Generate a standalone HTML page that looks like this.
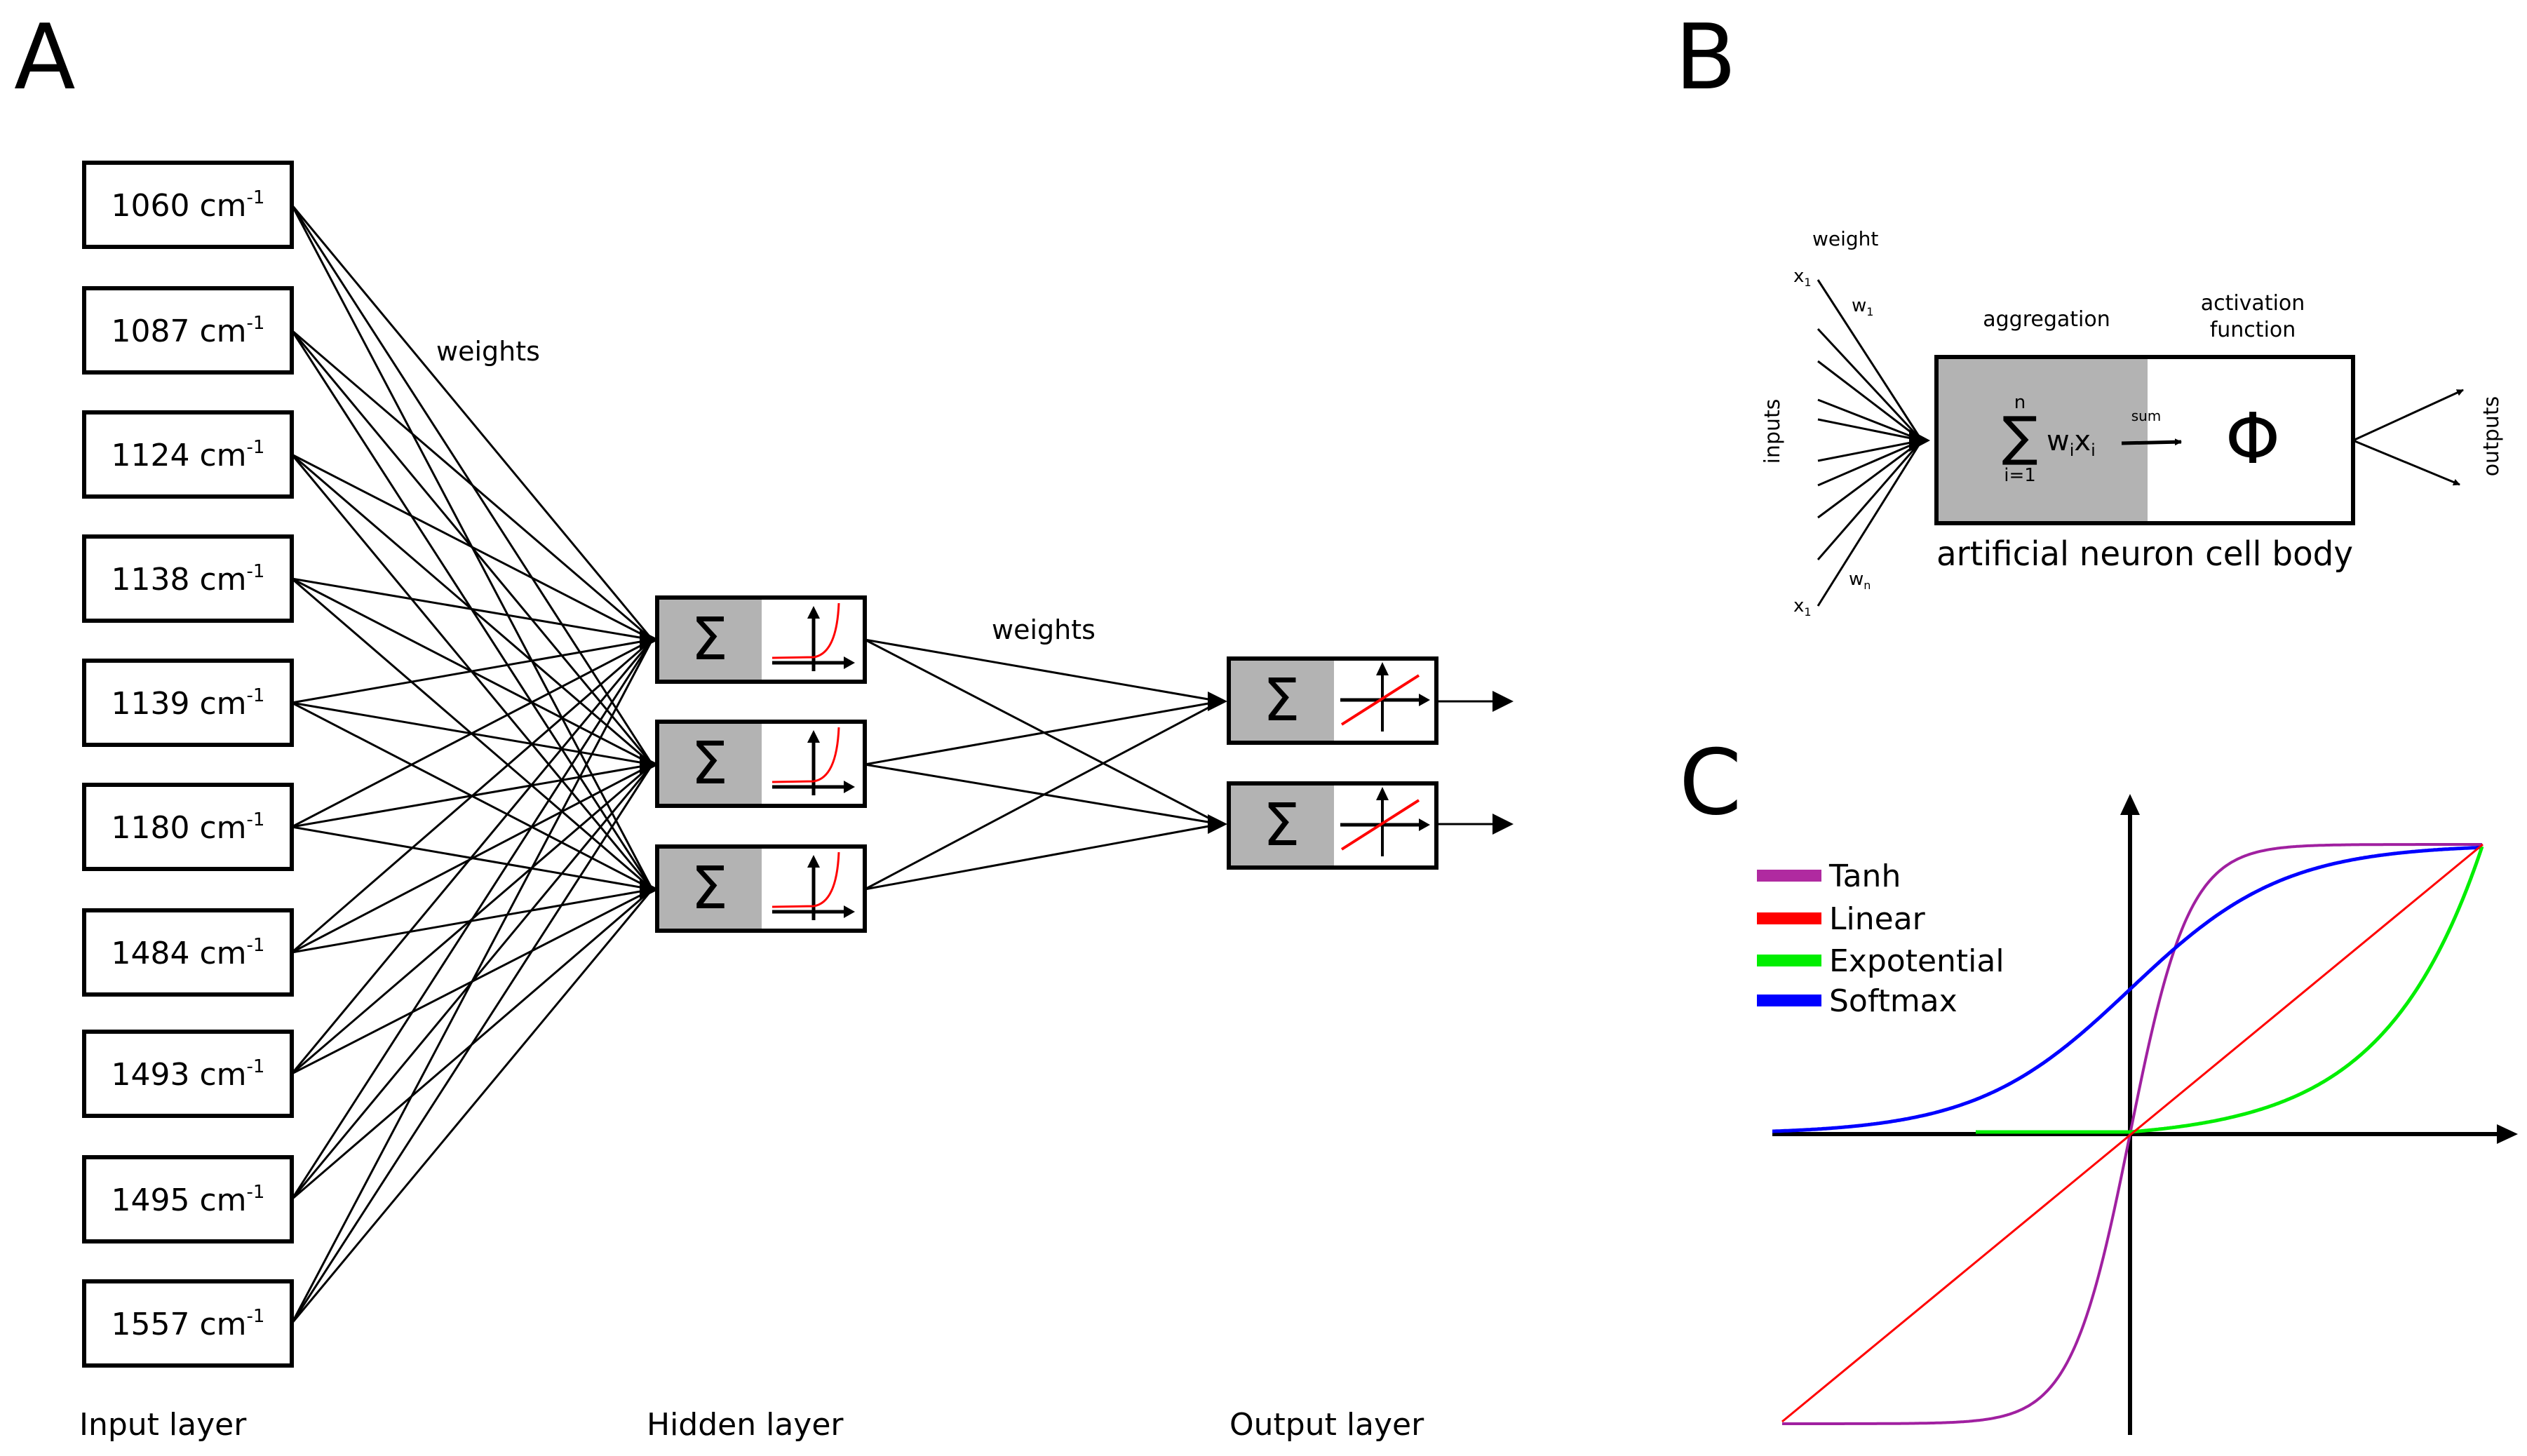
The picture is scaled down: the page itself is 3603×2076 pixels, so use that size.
<!DOCTYPE html>
<html><head><meta charset="utf-8">
<style>
html,body{margin:0;padding:0;background:#fff;}
svg{display:block;}
text{font-family:"DejaVu Sans","Liberation Sans",sans-serif;fill:#000;}
</style></head>
<body>
<svg id="s" xmlns="http://www.w3.org/2000/svg" width="3603" height="2076" viewBox="0 0 3603 2076">
<defs>
<marker id="ah" markerWidth="10" markerHeight="10" refX="9" refY="5" orient="auto" markerUnits="userSpaceOnUse" viewBox="0 0 10 10"><path d="M0,0 L10,5 L0,10 z" fill="#000"/></marker>
</defs>
<rect width="3603" height="2076" fill="#fff"/>
<text x="20" y="126" font-size="128">A</text>
<text x="2388" y="126" font-size="128">B</text>
<text x="2394" y="1160" font-size="128">C</text>
<g id="net" stroke="#000" stroke-width="3"></g>
<g id="boxes"></g>
<text x="696" y="514" font-size="38" text-anchor="middle">weights</text>
<text x="1488" y="911" font-size="38" text-anchor="middle">weights</text>
<text x="113" y="2046" font-size="44">Input layer</text>
<text x="922" y="2046" font-size="44">Hidden layer</text>
<text x="1753" y="2046" font-size="44">Output layer</text>

<!-- B -->
<g id="bl" stroke="#000" stroke-width="3"></g>
<rect x="2761" y="509" width="301" height="237" fill="#b3b3b3"/>
<rect x="2761" y="509" width="594" height="237" fill="none" stroke="#000" stroke-width="6"/>
<text x="2584" y="350" font-size="28">weight</text>
<text x="2557" y="402" font-size="26">x<tspan font-size="16" dy="6">1</tspan></text>
<text x="2640" y="444" font-size="26">w<tspan font-size="16" dy="6">1</tspan></text>
<text x="2636" y="834" font-size="26">w<tspan font-size="16" dy="6">n</tspan></text>
<text x="2557" y="872" font-size="26">x<tspan font-size="16" dy="6">1</tspan></text>
<text transform="translate(2537,615) rotate(-90)" font-size="30" text-anchor="middle">inputs</text>
<text transform="translate(3562,622) rotate(-90)" font-size="30" text-anchor="middle">outputs</text>
<text x="2918" y="465" font-size="30" text-anchor="middle">aggregation</text>
<text x="3212" y="442" font-size="30" text-anchor="middle">activation</text>
<text x="3212" y="480" font-size="30" text-anchor="middle">function</text>
<text x="2880" y="648" font-size="76" text-anchor="middle">∑</text>
<text x="2880" y="582" font-size="26" text-anchor="middle">n</text>
<text x="2880" y="686" font-size="26" text-anchor="middle">i=1</text>
<text x="2918" y="642" font-size="40">w<tspan font-size="24" dy="8">i</tspan><tspan dy="-8">x</tspan><tspan font-size="24" dy="8">i</tspan></text>
<text x="3060" y="600" font-size="20" text-anchor="middle">sum</text>
<line x1="3025" y1="632" x2="3110" y2="630" stroke="#000" stroke-width="5" marker-end="url(#ah)"/>
<text x="3212" y="660" font-size="100" text-anchor="middle">Φ</text>
<text x="3058" y="806" font-size="48" text-anchor="middle" textLength="594" lengthAdjust="spacingAndGlyphs">artificial neuron cell body</text>
<line x1="3355" y1="628" x2="3512" y2="556" stroke="#000" stroke-width="3" marker-end="url(#ah)"/>
<line x1="3355" y1="628" x2="3507" y2="691" stroke="#000" stroke-width="3" marker-end="url(#ah)"/>

<!-- C -->
<line x1="2527" y1="1617" x2="3560" y2="1617" stroke="#000" stroke-width="6"/>
<path d="M3560,1603 L3590,1617 L3560,1631 z"/>
<line x1="3037" y1="2046" x2="3037" y2="1160" stroke="#000" stroke-width="6"/>
<path d="M3023,1162 L3037,1132 L3051,1162 z"/>
<g id="curves" fill="none"></g>
<rect x="2505" y="1240" width="92" height="17" fill="#b02aa0"/>
<rect x="2505" y="1301" width="92" height="17" fill="#ff0000"/>
<rect x="2505" y="1361" width="92" height="17" fill="#00ee00"/>
<rect x="2505" y="1418" width="92" height="17" fill="#0000ff"/>
<text x="2608" y="1264" font-size="44">Tanh</text>
<text x="2608" y="1325" font-size="44">Linear</text>
<text x="2608" y="1385" font-size="44">Expotential</text>
<text x="2608" y="1442" font-size="44">Softmax</text>
</svg>
<script>
var NS="http://www.w3.org/2000/svg";
function el(p,t,a){var e=document.createElementNS(NS,t);for(var k in a)e.setAttribute(k,a[k]);p.appendChild(e);return e;}
var net=document.getElementById('net'),bx=document.getElementById('boxes');
var labels=["1060","1087","1124","1138","1139","1180","1484","1493","1495","1557"];
var tops=[232,411,588,765,942,1119,1298,1471,1650,1827];
var hc=[912,1090,1268], oc=[1000,1175];
tops.forEach(function(t,i){
  hc.forEach(function(h){el(net,'line',{x1:416,y1:t+60,x2:930,y2:h});});
});
hc.forEach(function(h){oc.forEach(function(o){el(net,'line',{x1:1233,y1:h,x2:1740,y2:o});});});
hc.forEach(function(h){el(bx,'path',{d:'M912,'+(h-14)+' L940,'+h+' L912,'+(h+14)+' z'});});
oc.forEach(function(o){el(bx,'path',{d:'M1722,'+(o-14)+' L1750,'+o+' L1722,'+(o+14)+' z'});
  el(bx,'line',{x1:2048,y1:o,x2:2130,y2:o,stroke:'#000','stroke-width':3});
  el(bx,'path',{d:'M2128,'+(o-15)+' L2158,'+o+' L2128,'+(o+15)+' z'});});
tops.forEach(function(t,i){
  el(bx,'rect',{x:120,y:t,width:296,height:120,fill:'#fff',stroke:'#000','stroke-width':6});
  var tx=el(bx,'text',{x:268,y:t+76,'font-size':44,'text-anchor':'middle'});
  tx.textContent=labels[i]+" cm";
  var sp=el(tx,'tspan',{'font-size':26,dy:-18});sp.textContent="-1";
});
function node(x,y,gw,lin){
  el(bx,'rect',{x:x,y:y,width:gw,height:120,fill:'#b3b3b3'});
  el(bx,'rect',{x:x,y:y,width:296,height:120,fill:'none',stroke:'#000','stroke-width':6});
  var s=el(bx,'text',{x:x+gw/2,y:y+88,'font-size':84,'text-anchor':'middle'});s.textContent="Σ";
  if(!lin){
    el(bx,'line',{x1:1101-937+x,y1:y+93,x2:1205-937+x,y2:y+93,stroke:'#000','stroke-width':5});
    el(bx,'path',{d:'M'+(1203-937+x)+','+(y+84)+' l16,9 l-16,9 z'});
    el(bx,'line',{x1:1160-937+x,y1:y+105,x2:1160-937+x,y2:y+28,stroke:'#000','stroke-width':5});
    el(bx,'path',{d:'M'+(1151-937+x)+','+(y+30)+' l9,-18 l9,18 z'});
    el(bx,'path',{d:'M'+(1101-937+x)+','+(y+86)+' L'+(1160-937+x)+','+(y+85)+' Q'+(1193-937+x)+','+(y+80)+' '+(1196-937+x)+','+(y+8),fill:'none',stroke:'#f00','stroke-width':3});
  } else {
    el(bx,'line',{x1:x+(1911-1752),y1:y+59,x2:x+(2025-1752),y2:y+59,stroke:'#000','stroke-width':5});
    el(bx,'path',{d:'M'+(x+2023-1752)+','+(y+50)+' l16,9 l-16,9 z'});
    el(bx,'line',{x1:x+219,y1:y+104,x2:x+219,y2:y+22,stroke:'#000','stroke-width':4});
    el(bx,'path',{d:'M'+(x+210)+','+(y+24)+' l9,-19 l9,19 z'});
    el(bx,'line',{x1:x+161,y1:y+94,x2:x+271,y2:y+24,stroke:'#f00','stroke-width':4});
  }
}
[852,1029,1207].forEach(function(y){node(937,y,149,false);});
[939,1117].forEach(function(y){node(1752,y,150,true);});
var bl=document.getElementById('bl');
[399,469,515,570,598,657,692,738,798,864].forEach(function(y,i){
  el(bl,'line',{x1:2592,y1:y,x2:2740,y2:628});
});
el(bl,'path',{d:'M2722,612 L2752,628 L2722,644 z',fill:'#000',stroke:'none'});
var cv=document.getElementById('curves');
var ox=3037,oy=1617,H=413;
function path(f,a,b,col,w){var d="";for(var x=a;x<=b;x+=2){d+=(x==a?"M":"L")+(ox+x)+","+(oy-f(x)).toFixed(1)+" ";}
  el(cv,'path',{d:d,stroke:col,'stroke-width':w});}
path(function(x){return H*Math.tanh(x/84);},-496,503,'#a020a0',4);
path(function(x){return H/(1+Math.exp(-x/110));},-510,503,'#0000ff',5);
path(function(x){return x<0?3:3+(H-3)*(Math.exp(x/140)-1)/(Math.exp(503/140)-1);},-220,503,'#00ee00',5);
el(cv,'line',{x1:2541,y1:2027,x2:3540,y2:1204,stroke:'#ff0000','stroke-width':3});
</script>
</body></html>
